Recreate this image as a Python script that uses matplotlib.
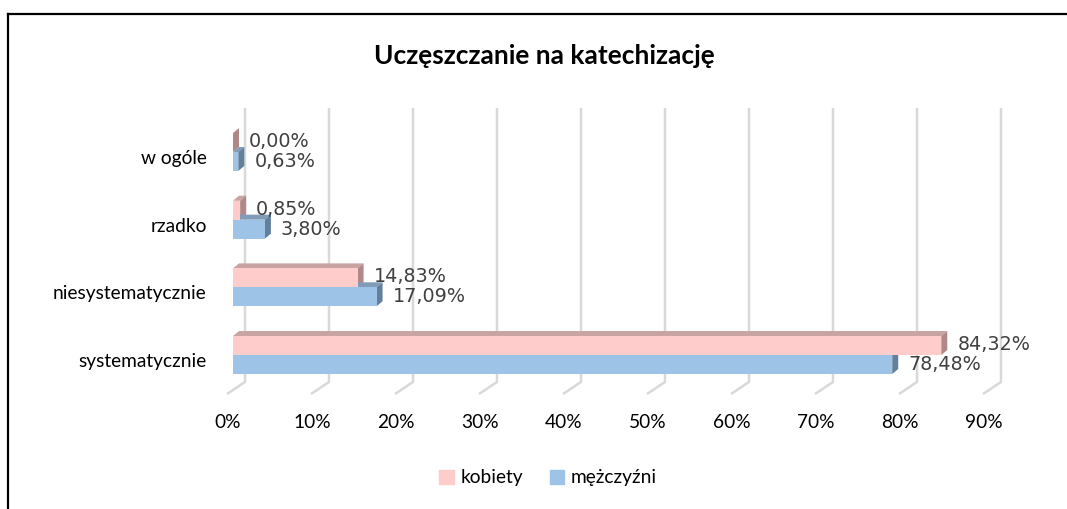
import matplotlib.pyplot as plt
import matplotlib.transforms as mtransforms
from matplotlib.patches import Polygon, Patch
from matplotlib.lines import Line2D
import numpy as np

categories = ["systematycznie", "niesystematycznie", "rzadko", "w ogóle"]
kobiety = [84.32, 14.83, 0.85, 0.00]
mezczyzni = [78.48, 17.09, 3.80, 0.63]
series_names = ["kobiety", "mężczyźni"]
xticks = [0, 10, 20, 30, 40, 50, 60, 70, 80, 90]
xtick_labels = [f"{t}%" for t in xticks]
title = "Uczęszczanie na katechizację"

pink_front, pink_top, pink_side = "#ffcccc", "#c9a2a2", "#b08888"
blue_front, blue_top, blue_side = "#9dc3e6", "#7f9cb8", "#62809c"
grid_col = "#d9d9d9"
label_font = "Lato"
lab_size = 13.8

W, H = 1067, 509
fig = plt.figure(figsize=(W / 100, H / 100), dpi=100)
# front plane of the bars: 0% at x=233 px, 8.4 px per percent
ax = fig.add_axes([233 / W, 1 - 388.85 / H, 756 / W, (388.85 - 118.15) / H])
ax.set_xlim(0, 90)
ax.set_ylim(-0.5, 3.5)
for s in ax.spines.values():
    s.set_visible(False)
ax.tick_params(length=0)

y = np.arange(len(categories))
h = 0.28
ax.barh(y + h / 2, kobiety, height=h, color=pink_front, zorder=3)
ax.barh(y - h / 2, mezczyzni, height=h, color=blue_front, zorder=3)

fig.canvas.draw()
to_px = ax.transData.transform
to_data = ax.transData.inverted().transform
ddx, ddy = 6, 5  # bar depth in pixels


def box3d(x1, y0, y1, top, side, z):
    p = to_px([(0, y0), (x1, y0), (x1, y1), (0, y1)])
    d = np.array([ddx, ddy])
    top_poly = np.array([p[3], p[2], p[2] + d, p[3] + d])
    side_poly = np.array([p[1], p[1] + d, p[2] + d, p[2]])
    ax.add_patch(Polygon(to_data(top_poly), closed=True, color=top, lw=0, zorder=z, clip_on=False))
    ax.add_patch(Polygon(to_data(side_poly), closed=True, color=side, lw=0, zorder=z, clip_on=False))


for i in range(len(categories)):
    box3d(mezczyzni[i], y[i] - h, y[i], blue_top, blue_side, 2.5)
    box3d(kobiety[i], y[i], y[i] + h, pink_top, pink_side, 2.4)

# back wall gridlines and floor lines (pixel offsets from the bar plane)
for t in xticks:
    fx = to_px((t, 0))[0]
    back_bot = (fx + 12, H - 382)
    back_top = (fx + 12, H - 108)
    front_bot = (fx - 6, H - 394)
    pts = to_data(np.array([front_bot, back_bot, back_top]))
    ax.plot(pts[:, 0], pts[:, 1], color=grid_col, lw=1.8, zorder=1, clip_on=False,
            solid_capstyle="butt")

# data labels
for i in range(len(categories)):
    ax.annotate(f"{kobiety[i]:.2f}%".replace(".", ","), (kobiety[i], y[i] + h / 2),
                xytext=(16 * 0.72, 1 * 0.72), textcoords="offset points",
                ha="left", va="center", fontsize=13.8, color="#404040", zorder=5)
    ax.annotate(f"{mezczyzni[i]:.2f}%".replace(".", ","), (mezczyzni[i], y[i] - h / 2),
                xytext=(16 * 0.72, 0), textcoords="offset points",
                ha="left", va="center", fontsize=13.8, color="#404040", zorder=5)

ax.set_xticks(xticks)
ax.set_xticklabels(xtick_labels, fontsize=lab_size, family=label_font, color="#000000")
ax.set_yticks(y)
ax.set_yticklabels(categories, fontsize=lab_size, family=label_font, color="#000000")
ax.tick_params(axis="x", pad=18)
ax.tick_params(axis="y", pad=19)
shift_x = mtransforms.ScaledTranslation(-5 / 100, 0, fig.dpi_scale_trans)
for lab in ax.get_xticklabels():
    lab.set_transform(lab.get_transform() + shift_x)
shift_y = mtransforms.ScaledTranslation(0, -5 / 100, fig.dpi_scale_trans)
for lab in ax.get_yticklabels():
    lab.set_transform(lab.get_transform() + shift_y)

fig.text(544 / W, 1 - 56 / H, title, ha="center", va="center", fontsize=19,
         fontweight="bold", family=label_font)

handles = [Patch(color=pink_front), Patch(color=blue_front)]
fig.legend(handles, series_names, loc="center", bbox_to_anchor=(548 / W, 1 - 478 / H),
           ncol=2, frameon=False, prop={"family": label_font, "size": lab_size},
           handlelength=0.75, handleheight=0.75, handletextpad=0.35, columnspacing=1.4)

# chart border (top and left edges visible)
fig.add_artist(Line2D([7.5 / W, 1], [1 - 13.5 / H, 1 - 13.5 / H], color="black", lw=1.6,
                      transform=fig.transFigure))
fig.add_artist(Line2D([7.5 / W, 7.5 / W], [0, 1 - 13.5 / H], color="black", lw=1.6,
                      transform=fig.transFigure))

fig.savefig("out.png", dpi=100)
